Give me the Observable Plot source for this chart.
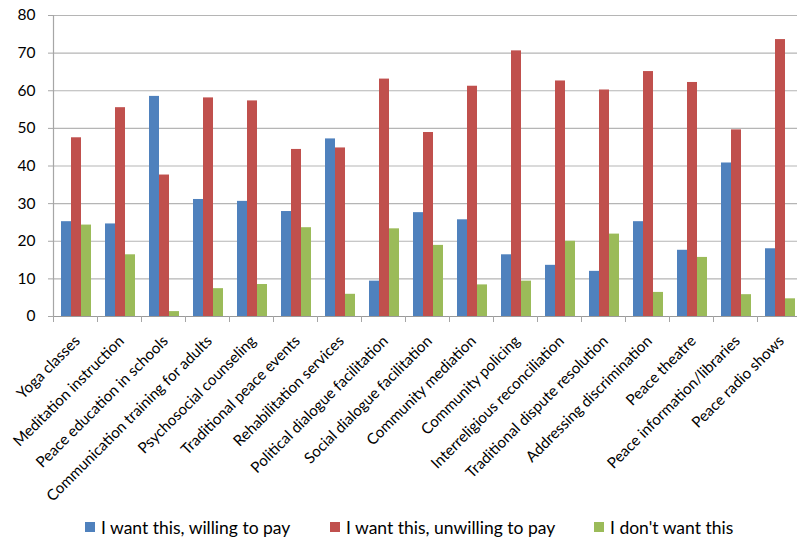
<!DOCTYPE html>
<html>
<head>
<meta charset="utf-8">
<script src="https://cdn.jsdelivr.net/npm/d3@7"></script>
<script src="https://cdn.jsdelivr.net/npm/@observablehq/plot@0.6"></script>
<style>
  html, body { margin: 0; padding: 0; background: #fff; overflow: hidden; }
  #chart { width: 797px; height: 512px; }
  .legend { position: relative; height: 30px; width: 797px;
    font-family: Lato, "Open Sans", sans-serif; font-size: 17.5px; color: #000; }
  .legend .item { position: absolute; top: 0; height: 30px; display: flex; align-items: center; white-space: nowrap; }
  .legend .sw { width: 10px; height: 10px; margin-right: 6px; }
</style>
</head>
<body>
<div id="chart"></div>
<script>
const categories = [
  "Yoga classes", "Meditation instruction", "Peace education in schools",
  "Communication training for adults", "Psychosocial counseling", "Traditional peace events",
  "Rehabilitation services", "Political dialogue facilitation", "Social dialogue facilitation",
  "Community mediation", "Community policing", "Interreligious reconciliation",
  "Traditional dispute resolution", "Addressing discrimination", "Peace theatre",
  "Peace information/libraries", "Peace radio shows"
];
const seriesNames = ["I want this, willing to pay", "I want this, unwilling to pay", "I don't want this"];
const willingToPay   = [25.2, 24.6, 58.5, 31.1, 30.6, 27.9, 47.2,  9.4, 27.6, 25.7, 16.4, 13.6, 12.0, 25.2, 17.6, 40.8, 18.0];
const unwillingToPay = [47.5, 55.5, 37.6, 58.1, 57.3, 44.4, 44.8, 63.1, 48.9, 61.2, 70.6, 62.6, 60.2, 65.1, 62.2, 49.6, 73.6];
const dontWant       = [24.3, 16.4,  1.3,  7.4,  8.5, 23.6,  5.9, 23.3, 18.9,  8.4,  9.4, 20.0, 21.9,  6.4, 15.7,  5.8,  4.7];
const yTicks = [0, 10, 20, 30, 40, 50, 60, 70, 80];
const colors = ["#4F81BD", "#C0504D", "#9BBB59"];

const seriesValues = [willingToPay, unwillingToPay, dontWant];
const data = [];
seriesNames.forEach((s, si) => categories.forEach((c, ci) => data.push({category: c, series: s, value: seriesValues[si][ci]})));

const font = "Lato, 'Open Sans', sans-serif";
const insets = [[8, 26], [18, 16], [28, 6]];

const chart = Plot.plot({
  width: 797,
  height: 512,
  marginTop: 15,
  marginLeft: 53,
  marginRight: 0,
  marginBottom: 196,
  style: {fontFamily: font, fontSize: "15px", color: "#000", background: "#fff"},
  x: {domain: categories, range: [53, 801], padding: 0},
  y: {domain: [0, 80], range: [316, 15]},
  color: {domain: seriesNames, range: colors},
  marks: [
    Plot.gridY(yTicks, {stroke: "#b5b5b5", strokeOpacity: 1, strokeWidth: 1.2}),
    ...seriesNames.map((s, si) => Plot.barY(data.filter(d => d.series === s), {
      x: "category", y: "value", fill: "series",
      insetLeft: insets[si][0], insetRight: insets[si][1]
    })),
    Plot.ruleX([categories[0]], {stroke: "#a6a6a6", dx: -22, strokeWidth: 1.2}),
    Plot.ruleY([0], {stroke: "#9a9a9a", strokeWidth: 1.2}),
    Plot.axisY({ticks: yTicks, tickSize: 5, tickPadding: 13, stroke: "#a6a6a6", fontSize: 15.5, label: null}),
    Plot.axisX({ticks: categories, tickSize: 6, tickFormat: null, dx: -22, stroke: "#a6a6a6", label: null}),
    Plot.axisX({ticks: categories, tickSize: 0, tickRotate: -45, tickPadding: 22, dx: 2, fontSize: 15.2, label: null})
  ]
});
document.getElementById("chart").appendChild(chart);

const legendLeft = [85, 330, 594];
const legend = d3.select("body").append("div").attr("class", "legend");
seriesNames.forEach((s, i) => {
  const item = legend.append("div").attr("class", "item").style("left", legendLeft[i] + "px");
  item.append("div").attr("class", "sw").style("background", colors[i]);
  item.append("span").text(s);
});
</script>
</body>
</html>
